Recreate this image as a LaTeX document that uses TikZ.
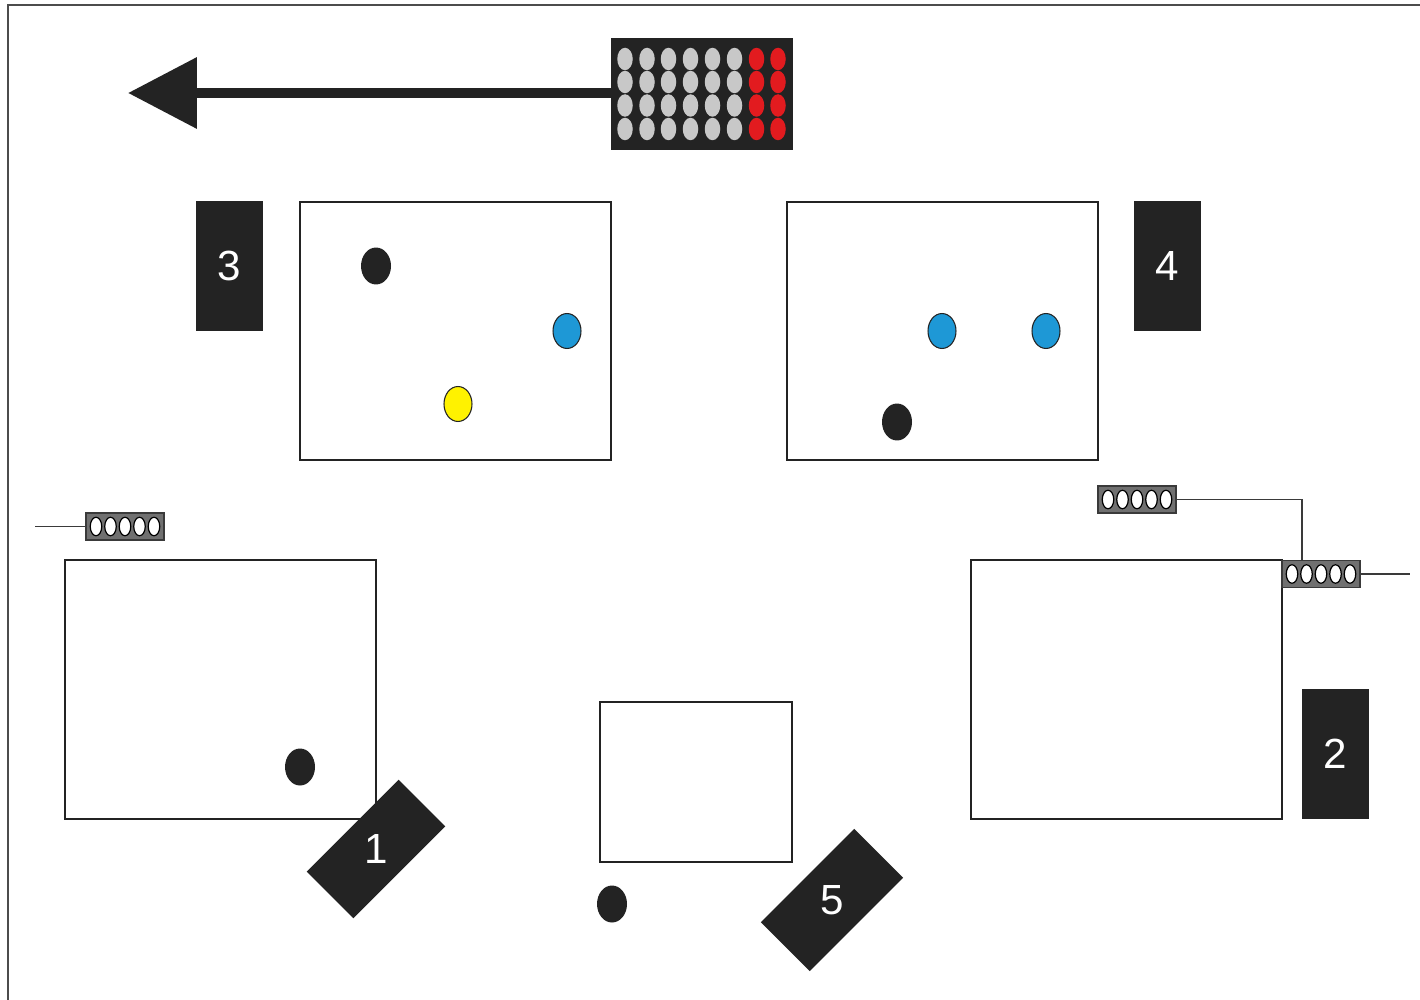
\documentclass[tikz,border=0pt]{standalone}
\usepackage{fontspec}
\setmainfont{Liberation Sans}
\usetikzlibrary{arrows.meta,calc}
\definecolor{ink}{HTML}{232323}
\definecolor{ledgray}{HTML}{C8C8C8}
\definecolor{ledred}{HTML}{E21B1F}
\definecolor{dotblue}{HTML}{1E98D6}
\definecolor{dotyellow}{HTML}{FFF200}
\definecolor{connfill}{HTML}{707070}
\definecolor{connline}{HTML}{3A3A3A}
\tikzset{
  box/.style={draw=ink, line width=0.8pt, fill=white, inner sep=0pt},
  tag/.style={fill=ink, text=white, inner sep=0pt, minimum width=1.34cm, minimum height=2.6cm, font=\fontsize{24}{24}\selectfont},
  rtag/.style={fill=ink, text=white, inner sep=0pt, rotate=45, font=\fontsize{24}{24}\selectfont},
  conn/.style={draw=connline, line width=1pt, fill=connfill, inner sep=0pt, minimum width=1.56cm, minimum height=0.54cm},
  wire/.style={draw=connline, line width=0.9pt},
  blackdot/.style={fill=ink},
  blueclr/.style={fill=dotblue, draw=ink, line width=0.6pt},
  yellowclr/.style={fill=dotyellow, draw=ink, line width=0.6pt},
  frameline/.style={draw=black!70, line width=1.2pt}
}
\newcommand{\conndots}[1]{%
  \foreach \dx in {-29,-14.5,0,14.5,29}{
    \filldraw[fill=white, draw=black, line width=0.7pt] ($(#1.center)+(\dx,0)$) ellipse [x radius=0.115cm, y radius=0.185cm];
  }}
\begin{document}
\begin{tikzpicture}[x=0.02cm,y=-0.02cm]
\useasboundingbox (0,0) rectangle (1420,1000);
\fill[white] (0,0) rectangle (1420,1000);
% frame
\draw[frameline] (8,1000) -- (8,5) -- (1420,5);

% LED panel and arrow
\node[fill=ink, inner sep=0pt, minimum width=3.64cm, minimum height=2.24cm] (P) at (702,94) {};
\coordinate (tip) at (128,93);
\draw[ink, line width=0.21cm, -{Triangle[length=1.38cm, width=1.38cm]}] (P.west |- tip) -- (tip);
\foreach \cx [count=\i] in {625,647,668.5,690.5,712.5,734.5,756.5,778}{
  \foreach \cy in {59,82,105.5,129}{
    \ifnum\i>6
      \fill[ledred] (\cx,\cy) ellipse [x radius=0.155cm, y radius=0.225cm];
    \else
      \fill[ledgray] (\cx,\cy) ellipse [x radius=0.155cm, y radius=0.225cm];
    \fi
  }
}

% tags 3 and 4
\node[tag] (t3) at (229.5,266) {3};
\node[tag] (t4) at (1167.5,266) {4};

% upper boxes
\node[box, minimum width=6.22cm, minimum height=5.16cm] (A) at (455.5,331) {};
\node[box, minimum width=6.22cm, minimum height=5.16cm] (B) at (942.5,331) {};
\fill[blackdot] (376,266) ellipse [x radius=0.3cm, y radius=0.37cm];
\filldraw[blueclr] (567,331) ellipse [x radius=0.28cm, y radius=0.35cm];
\filldraw[yellowclr] (458,404) ellipse [x radius=0.28cm, y radius=0.35cm];
\filldraw[blueclr] (942,331) ellipse [x radius=0.28cm, y radius=0.35cm];
\filldraw[blueclr] (1046,331) ellipse [x radius=0.28cm, y radius=0.35cm];
\fill[blackdot] (897,422) ellipse [x radius=0.3cm, y radius=0.37cm];

% lower boxes
\node[box, minimum width=6.22cm, minimum height=5.18cm] (C) at (220.5,689.5) {};
\node[box, minimum width=3.84cm, minimum height=3.2cm] (D) at (696,782) {};
\node[box, minimum width=6.22cm, minimum height=5.18cm] (E) at (1126.5,689.5) {};
\fill[blackdot] (300,767) ellipse [x radius=0.3cm, y radius=0.37cm];
\fill[blackdot] (612,904) ellipse [x radius=0.3cm, y radius=0.37cm];

% tag 2 and rotated tags 1, 5
\node[tag] (t2) at (1335.5,754) {2};
\node[rtag, minimum width=2.6cm, minimum height=1.32cm] (t1) at (376,849) {\rotatebox{-45}{1}};
\node[rtag, minimum width=2.64cm, minimum height=1.38cm] (t5) at (832,900) {\rotatebox{-45}{5}};

% connectors
\coordinate (w1) at (35,526.5);
\coordinate (bend) at (1302,561);
\coordinate (w3) at (1410,574);
\node[conn] (c1) at (125,526.5) {};
\node[conn] (c2) at (1137,499.5) {};
\node[conn] (c3) at (1321,574) {};
\draw[wire] (c1.west) -- (w1);
\draw[wire] (c2.east) -| (bend);
\draw[wire] (c3.east) -- (w3);
\conndots{c1}
\conndots{c2}
\conndots{c3}
\end{tikzpicture}
\end{document}
